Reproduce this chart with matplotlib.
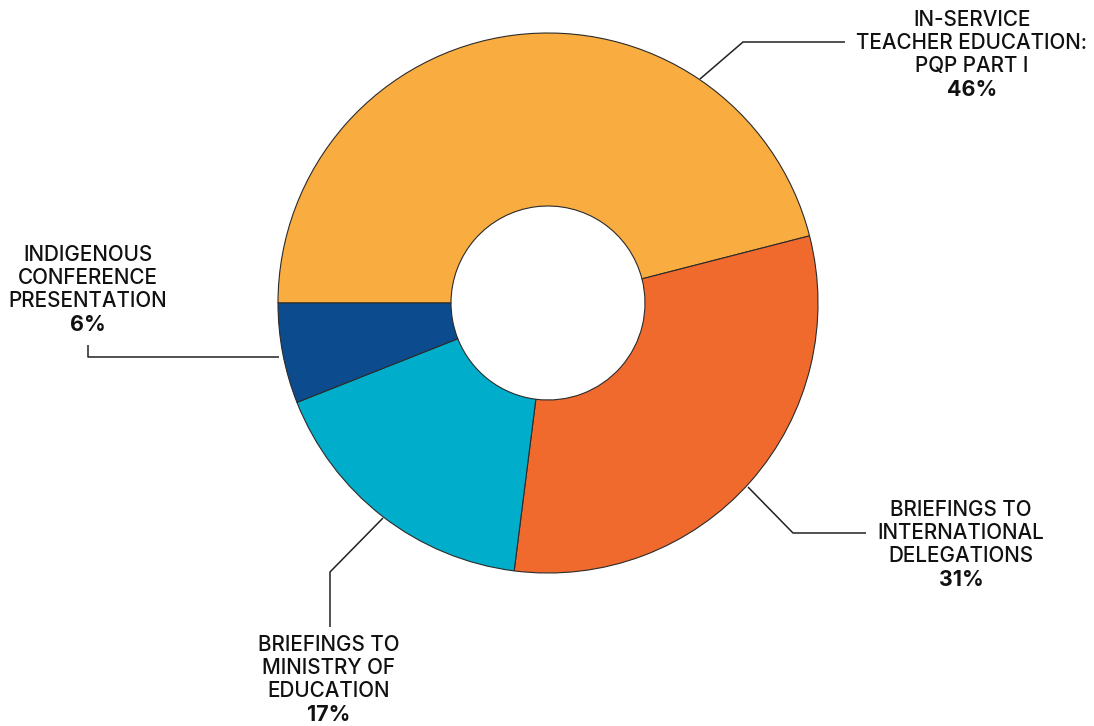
import matplotlib.pyplot as plt

labels = ['IN-SERVICE\nTEACHER EDUCATION:\nPQP PART I',
          'BRIEFINGS TO\nINTERNATIONAL\nDELEGATIONS',
          'BRIEFINGS TO\nMINISTRY OF\nEDUCATION',
          'INDIGENOUS\nCONFERENCE\nPRESENTATION']
values = [46, 31, 17, 6]
colors = ['#F9AC40', '#F06A2E', '#00AECB', '#0C4C8E']

W, H = 1094, 726
fig = plt.figure(figsize=(W / 100, H / 100), dpi=100)
ax = fig.add_axes([0, 0, 1, 1])

cx, cy, R, r = 548, H - 303, 270, 97
ax.pie(values, colors=colors, startangle=180, counterclock=False,
       radius=R, center=(cx, cy), frame=True,
       wedgeprops=dict(width=R - r, edgecolor='#2b2b2b', linewidth=0.8))
ax.set_xlim(0, W)
ax.set_ylim(0, H)
ax.axis('off')

# leader lines (pixel coords, y measured from top)
leaders = [
    [(700, 79), (743, 42), (845, 42)],
    [(748, 487), (793, 533), (866, 533)],
    [(383, 518), (330, 572), (330, 627)],
    [(279, 357), (88, 357), (88, 345)],
]
# text anchors: centre x, first line y (from top)
anchors = [(972, 20), (961, 510), (329, 645), (88, 255)]

font = 'Inter'
fs = 14.9
lh = 23
for lab, v, pts, (tx, ty) in zip(labels, values, leaders, anchors):
    xs = [p[0] for p in pts]
    ys = [H - p[1] for p in pts]
    ax.plot(xs, ys, color='#222222', lw=1.1, solid_capstyle='butt')
    lines = lab.split('\n')
    for i, line in enumerate(lines):
        ax.text(tx, H - (ty + i * lh), line, ha='center', va='center',
                fontsize=fs, family=font, fontweight='medium', color='#111111')
    ax.text(tx, H - (ty + len(lines) * lh + 1), f'{v}%', ha='center', va='center',
            fontsize=fs + 0.5, family=font, fontweight='bold', color='#111111')

fig.savefig('out.png', dpi=100)
